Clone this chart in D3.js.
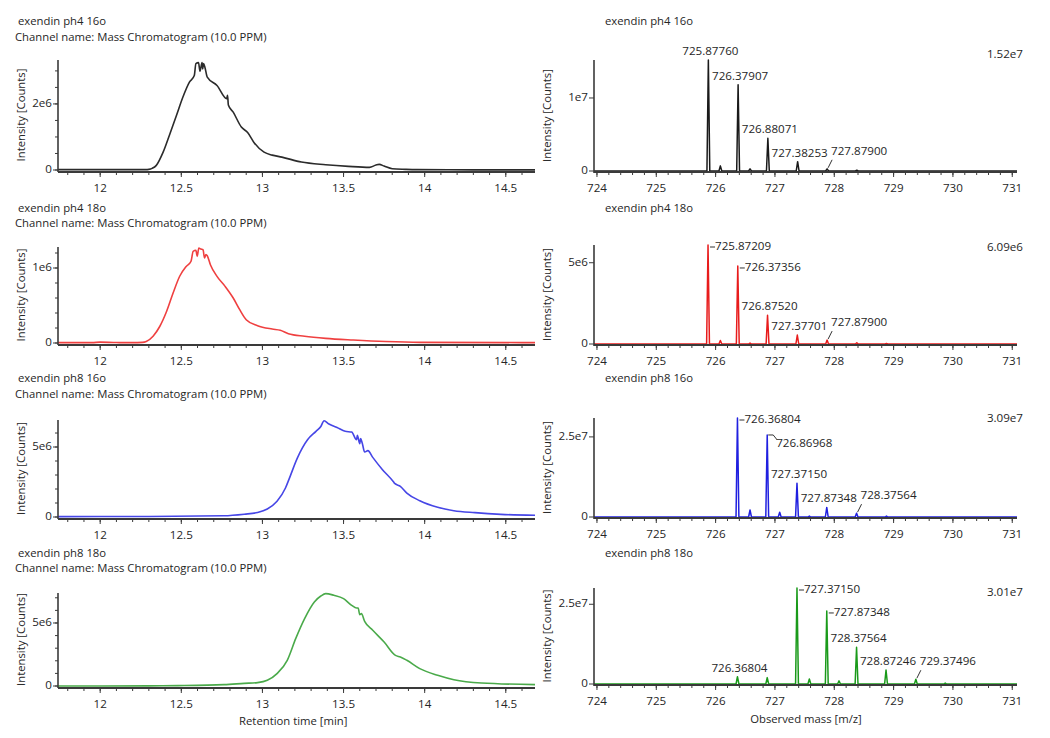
<!DOCTYPE html>
<html><head><meta charset="utf-8">
<script src="https://cdn.jsdelivr.net/npm/d3@7"></script>
<style>
body{margin:0;background:#fff;}
text{font-family:"Open Sans",sans-serif;fill:#262626;}
</style>
</head><body>
<svg id="c" width="1050" height="738"></svg>
<script>
// ---------- DATA ----------
const panelTitles = ["exendin ph4 16o","exendin ph4 18o","exendin ph8 16o","exendin ph8 18o"];
const channelName = "Channel name: Mass Chromatogram (10.0 PPM)";

// Chromatograms (retention time in min, intensity in counts)
const rt_ph4_16o = [11.74,12.0,12.2,12.28,12.30,12.32,12.346,12.388,12.43,12.47,12.51,12.55,12.58,12.59,12.606,12.615,12.628,12.632,12.637,12.645,12.66,12.72,12.78,12.785,12.79,12.82,12.87,12.91,12.95,13.01,13.06,13.12,13.24,13.39,13.53,13.66,13.70,13.72,13.75,13.80,13.88,13.95,14.3,14.68];
const int_ph4_16o = [0.01e6,0.01e6,0.01e6,0.012e6,0.02e6,0.05e6,0.14e6,0.54e6,1.10e6,1.65e6,2.21e6,2.66e6,2.86e6,3.22e6,3.25e6,2.99e6,3.25e6,3.06e6,3.22e6,3.12e6,2.81e6,2.56e6,2.16e6,2.26e6,1.97e6,1.75e6,1.30e6,1.13e6,0.82e6,0.54e6,0.45e6,0.39e6,0.24e6,0.16e6,0.11e6,0.08e6,0.15e6,0.17e6,0.12e6,0.04e6,0.02e6,0.01e6,0.005e6,0.005e6];

const rt_ph4_18o = [11.74,11.95,12.0,12.1,12.2,12.26,12.284,12.326,12.367,12.409,12.45,12.49,12.53,12.56,12.573,12.59,12.598,12.608,12.62,12.634,12.643,12.652,12.66,12.68,12.72,12.77,12.82,12.86,12.90,12.97,13.06,13.11,13.16,13.26,13.39,13.56,13.76,13.97,14.68];
const int_ph4_18o = [0.005e6,0.005e6,0.012e6,0.006e6,0.005e6,0.008e6,0.02e6,0.09e6,0.22e6,0.42e6,0.67e6,0.89e6,1.02e6,1.09e6,1.222e6,1.236e6,1.155e6,1.266e6,1.253e6,1.244e6,1.133e6,1.18e6,1.164e6,1.04e6,0.888e6,0.755e6,0.60e6,0.444e6,0.31e6,0.23e6,0.186e6,0.17e6,0.124e6,0.09e6,0.062e6,0.04e6,0.02e6,0.009e6,0.005e6];

const rt_ph8_16o = [11.74,12.3,12.763,12.888,12.97,13.03,13.09,13.142,13.163,13.215,13.278,13.33,13.36,13.38,13.41,13.46,13.51,13.55,13.58,13.585,13.60,13.605,13.615,13.63,13.65,13.68,13.74,13.81,13.815,13.85,13.89,13.97,14.08,14.18,14.31,14.47,14.68];
const int_ph8_16o = [0.03e6,0.04e6,0.09e6,0.20e6,0.32e6,0.57e6,1.12e6,2.07e6,2.67e6,4.21e6,5.52e6,6.12e6,6.47e6,6.88e6,6.64e6,6.40e6,6.12e6,6.07e6,5.52e6,5.83e6,5.24e6,5.60e6,5.29e6,4.64e6,4.74e6,4.26e6,3.38e6,2.48e6,2.40e6,2.19e6,1.71e6,1.16e6,0.69e6,0.45e6,0.31e6,0.19e6,0.12e6];

const rt_ph8_18o = [11.74,12.3,12.48,12.763,12.888,12.97,13.03,13.09,13.153,13.205,13.26,13.32,13.36,13.39,13.44,13.50,13.55,13.58,13.59,13.60,13.61,13.63,13.68,13.75,13.82,13.85,13.89,13.97,14.08,14.18,14.35,14.68];
const int_ph8_18o = [0.0e6,0.01e6,0.03e6,0.11e6,0.21e6,0.27e6,0.45e6,0.98e6,2.04e6,3.76e6,5.35e6,6.67e6,7.14e6,7.33e6,7.20e6,6.93e6,6.40e6,6.19e6,6.19e6,5.66e6,5.74e6,5.13e6,4.42e6,3.49e6,2.43e6,2.30e6,2.04e6,1.38e6,0.85e6,0.50e6,0.24e6,0.11e6];

// Mass spectra (m/z, intensity in counts)
const mz_ph4_16o  = [725.87760,726.08,726.37907,726.58,726.88071,727.38253,727.87900,728.38];
const ab_ph4_16o  = [1.52e7,0.07e7,1.18e7,0.03e7,0.448e7,0.127e7,0.03e7,0.01e7];
const mz_ph4_18o  = [725.87209,726.08,726.37356,726.58,726.87520,727.37701,727.87900,728.38,728.88];
const ab_ph4_18o  = [6.09e6,0.22e6,4.80e6,0.06e6,1.77e6,0.55e6,0.24e6,0.08e6,0.03e6];
const mz_ph8_16o  = [726.36804,726.58,726.86968,727.08,727.37150,727.58,727.87348,728.37564,728.88];
const ab_ph8_16o  = [3.09e7,0.22e7,2.56e7,0.15e7,1.05e7,0.03e7,0.30e7,0.12e7,0.03e7];
const mz_ph8_18o  = [726.36804,726.87,727.37150,727.58,727.87348,728.08,728.37564,728.87246,729.37496,729.87];
const ab_ph8_18o  = [0.23e7,0.20e7,3.01e7,0.16e7,2.29e7,0.10e7,1.15e7,0.44e7,0.15e7,0.03e7];

// Labelled peaks
const lab_ph4_16o = ["725.87760","726.37907","726.88071","727.38253","727.87900"];
const lab_ph4_18o = ["725.87209","726.37356","726.87520","727.37701","727.87900"];
const lab_ph8_16o = ["726.36804","726.86968","727.37150","727.87348","728.37564"];
const lab_ph8_18o = ["727.37150","727.87348","728.37564","728.87246","729.37496","726.36804"];
const maxLabels = ["1.52e7","6.09e6","3.09e7","3.01e7"];

// Axis ticks
const rtTicks = [12,12.5,13,13.5,14,14.5];
const rtTickLabels = ["12","12.5","13","13.5","14","14.5"];
const mzTicks = [724,725,726,727,728,729,730,731];
const mzTickLabels = ["724","725","726","727","728","729","730","731"];
const chromYTicks = [[0,2e6],[0,1e6],[0,5e6],[0,5e6]];
const chromYTickLabels = [["0","2e6"],["0","1e6"],["0","5e6"],["0","5e6"]];
const specYTicks = [[0,1e7],[0,5e6],[0,2.5e7],[0,2.5e7]];
const specYTickLabels = [["0","1e7"],["0","5e6"],["0","2.5e7"],["0","2.5e7"]];

// ---------- LAYOUT / STYLE ----------
const svg = d3.select("#c");
const FS_TXT = 11.3, FS_NUM = 11.6;
const lineColors = ["#2b2b2b","#ef4040","#4646e6","#4aaa4a"];
const specColors = ["#1a1a1a","#e81c1c","#2020e0","#1a9a1a"];
const chromLay = [
  {top:60, zero:170, ymax:3.33e6, minor:0.5e6, titleY:22, chanY:38},
  {top:247,zero:343, ymax:1.28e6, minor:0.2e6, titleY:209,chanY:224},
  {top:420,zero:517, ymax:6.93e6, minor:1e6,   titleY:379,chanY:395},
  {top:593,zero:686, ymax:7.38e6, minor:1e6,   titleY:554,chanY:569}
];
const specLay = [
  {top:60, zero:171, titleY:22, maxY:55},
  {top:245,zero:344, titleY:209,maxY:248},
  {top:418,zero:517, titleY:379,maxY:419},
  {top:588,zero:684, titleY:554,maxY:593}
];
const labelModes = [
  ["above","above","above","above","slash"],
  ["dash","dash","above","above","slash"],
  ["dash","hook","above","above","slash"],
  ["dash","dash","above","above","slash","above"]
];
const chromData = [[rt_ph4_16o,int_ph4_16o],[rt_ph4_18o,int_ph4_18o],[rt_ph8_16o,int_ph8_16o],[rt_ph8_18o,int_ph8_18o]];
const specData = [[mz_ph4_16o,ab_ph4_16o],[mz_ph4_18o,ab_ph4_18o],[mz_ph8_16o,ab_ph8_16o],[mz_ph8_18o,ab_ph8_18o]];
const labData = [lab_ph4_16o,lab_ph4_18o,lab_ph8_16o,lab_ph8_18o];

const axisCol = "#3a3a3a";
const xL = d3.scaleLinear().domain([11.74,14.68]).range([58,535]);
const xR = d3.scaleLinear().domain([723.95,731.08]).range([594,1017]);

function drawXAxis(g, x, y0, majors, labels, minorStep){
  g.append("line").attr("x1",x.range()[0]).attr("x2",x.range()[1]).attr("y1",y0).attr("y2",y0)
    .attr("stroke",axisCol).attr("stroke-width",2);
  const [d0,d1] = x.domain();
  const minors = d3.range(Math.ceil(d0/minorStep-1e-9), Math.floor(d1/minorStep+1e-9)+1).map(k=>k*minorStep);
  g.selectAll(null).data(minors).join("line")
    .attr("x1",d=>x(d)).attr("x2",d=>x(d)).attr("y1",y0).attr("y2",y0+3)
    .attr("stroke",axisCol).attr("stroke-width",1);
  g.selectAll(null).data(majors).join("line")
    .attr("x1",d=>x(d)).attr("x2",d=>x(d)).attr("y1",y0).attr("y2",y0+5)
    .attr("stroke",axisCol).attr("stroke-width",1);
  g.selectAll(null).data(majors).join("text")
    .attr("x",d=>x(d)).attr("y",y0+17).attr("text-anchor","middle").attr("dominant-baseline","middle")
    .attr("font-size",FS_NUM).text((d,i)=>labels[i]);
}
function drawYAxis(g, y, xAx, majors, labels, minorStep){
  g.append("line").attr("x1",xAx).attr("x2",xAx).attr("y1",y.range()[1]).attr("y2",y.range()[0]+2)
    .attr("stroke",axisCol).attr("stroke-width",1.6);
  if(minorStep){
    const minors = d3.range(0, y.domain()[1]+1e-9, minorStep);
    g.selectAll(null).data(minors).join("line")
      .attr("x1",xAx-3).attr("x2",xAx).attr("y1",d=>y(d)).attr("y2",d=>y(d))
      .attr("stroke",axisCol).attr("stroke-width",1);
  }
  g.selectAll(null).data(majors).join("line")
    .attr("x1",xAx-5).attr("x2",xAx).attr("y1",d=>y(d)).attr("y2",d=>y(d))
    .attr("stroke",axisCol).attr("stroke-width",1);
  g.selectAll(null).data(majors).join("text")
    .attr("x",xAx-6).attr("y",d=>y(d)).attr("text-anchor","end").attr("dominant-baseline","middle")
    .attr("font-size",FS_NUM).text((d,i)=>labels[i]);
}
function yTitle(g, x, yc){
  g.append("text").attr("transform",`translate(${x},${yc}) rotate(-90)`)
    .attr("text-anchor","middle").attr("dominant-baseline","middle").attr("font-size",FS_TXT)
    .text("Intensity [Counts]");
}

// ---------- CHROMATOGRAMS ----------
chromLay.forEach((L,i)=>{
  const g = svg.append("g");
  const y = d3.scaleLinear().domain([0,L.ymax]).range([L.zero,L.top]);
  g.append("text").attr("x",18).attr("y",L.titleY).attr("dominant-baseline","middle").attr("font-size",FS_TXT).text(panelTitles[i]);
  g.append("text").attr("x",15).attr("y",L.chanY).attr("dominant-baseline","middle").attr("font-size",FS_TXT).text(channelName);
  const [ts,vs] = chromData[i];
  const pts = ts.map((t,k)=>[t,vs[k]]);
  g.append("path").datum(pts)
    .attr("d", d3.line().curve(d3.curveMonotoneX).x(d=>xL(d[0])).y(d=>y(d[1])))
    .attr("fill","none").attr("stroke",lineColors[i]).attr("stroke-width",1.6).attr("stroke-linejoin","round");
  drawYAxis(g, y, 58, chromYTicks[i], chromYTickLabels[i], L.minor);
  drawXAxis(g, xL, L.zero+2, rtTicks, rtTickLabels, 0.1);
  yTitle(g, 22, (L.top+L.zero)/2);
});
svg.append("text").attr("x",xL(13.19)).attr("y",722).attr("text-anchor","middle").attr("dominant-baseline","middle")
  .attr("font-size",FS_TXT).text("Retention time [min]");

// ---------- SPECTRA ----------
specLay.forEach((L,i)=>{
  const g = svg.append("g");
  const [mzs,abs] = specData[i];
  const ymax = +maxLabels[i];
  const y = d3.scaleLinear().domain([0,ymax]).range([L.zero,L.top]);
  g.append("text").attr("x",605).attr("y",L.titleY).attr("dominant-baseline","middle").attr("font-size",FS_TXT).text(panelTitles[i]);
  g.append("text").attr("x",1023).attr("y",L.maxY).attr("text-anchor","end").attr("dominant-baseline","middle").attr("font-size",FS_NUM).text(maxLabels[i]);
  const w = 0.024;
  const pts = [[xR.domain()[0],0]];
  mzs.map((m,k)=>[m,abs[k]]).sort((a,b)=>a[0]-b[0]).forEach(([m,a])=>{
    pts.push([m-w,0],[m,a],[m+w,0]);
  });
  pts.push([xR.domain()[1],0]);
  g.append("path").datum(pts)
    .attr("d", d3.line().x(d=>xR(d[0])).y(d=>y(d[1])))
    .attr("fill","none").attr("stroke",specColors[i]).attr("stroke-width",1.5).attr("stroke-linejoin","round");
  // peak labels
  labData[i].forEach((lab,k)=>{
    const m = +lab;
    let idx = 0, best = 1e9;
    mzs.forEach((mm,j)=>{ if(Math.abs(mm-m)<best){best=Math.abs(mm-m);idx=j;} });
    const px = xR(mzs[idx]), py = y(abs[idx]);
    const mode = labelModes[i][k];
    if(mode==="above"){
      g.append("text").attr("x",px+2).attr("y",py-8).attr("text-anchor","middle").attr("dominant-baseline","middle")
        .attr("font-size",FS_NUM).text(lab);
    } else if(mode==="dash"){
      g.append("line").attr("x1",px+2).attr("x2",px+7).attr("y1",py+2).attr("y2",py+2).attr("stroke","#333").attr("stroke-width",1);
      g.append("text").attr("x",px+7).attr("y",py+2).attr("dominant-baseline","middle").attr("font-size",FS_NUM).text(lab);
    } else if(mode==="slash"){
      g.append("line").attr("x1",px+1).attr("x2",px+5).attr("y1",py-1).attr("y2",py-9).attr("stroke","#333").attr("stroke-width",1);
      g.append("text").attr("x",px+4).attr("y",py-17).attr("dominant-baseline","middle").attr("font-size",FS_NUM).text(lab);
    } else if(mode==="hook"){
      g.append("polyline").attr("points",`${px+1},${py} ${px+6},${py} ${px+10},${py+5}`).attr("fill","none").attr("stroke","#333").attr("stroke-width",1);
      g.append("text").attr("x",px+9).attr("y",py+9).attr("dominant-baseline","middle").attr("font-size",FS_NUM).text(lab);
    }
  });
  drawYAxis(g, y, 594, specYTicks[i], specYTickLabels[i], null);
  drawXAxis(g, xR, L.zero+1, mzTicks, mzTickLabels, 0.2);
  yTitle(g, 548, (L.top+L.zero)/2);
});
svg.append("text").attr("x",806).attr("y",720).attr("text-anchor","middle").attr("dominant-baseline","middle")
  .attr("font-size",FS_TXT).text("Observed mass [m/z]");
</script>
</body></html>
